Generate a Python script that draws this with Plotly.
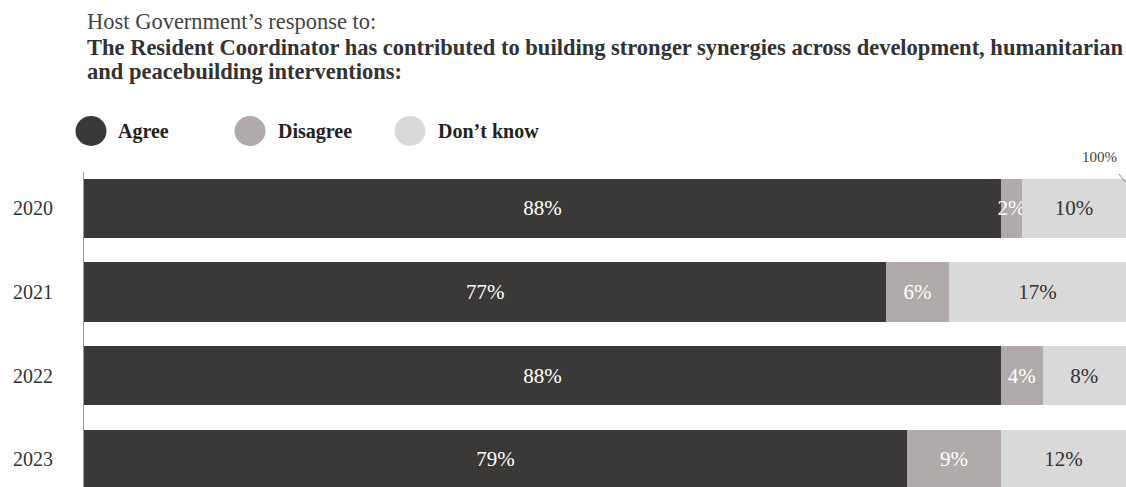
import plotly.graph_objects as go

# Survey responses by year (percent of respondents)
years = ["2020", "2021", "2022", "2023"]
agree = [88, 77, 88, 79]
disagree = [2, 6, 4, 9]
dont_know = [10, 17, 8, 12]

series_names = ["Agree", "Disagree", "Don\u2019t know"]
colors = ["#3b3937", "#b0abaa", "#d9d9d9"]
text_colors = ["#ffffff", "#ffffff", "#333333"]

W, H = 1126, 487
M_L, M_R, M_T, M_B = 84, 0, 172, 0
FONT = "Liberation Serif"
VALUE_SIZE = 21
TITLE_SIZE = 22.5


def px_x(px):
    """Pixel x -> paper x."""
    return (px - M_L) / (W - M_L - M_R)


def px_y(py):
    """Pixel y (from top) -> paper y."""
    return (H - M_B - py) / (H - M_T - M_B)


fig = go.Figure()
for name, vals, col, tcol in zip(series_names, [agree, disagree, dont_know], colors, text_colors):
    fig.add_trace(go.Bar(
        y=years, x=vals, name=name, orientation="h",
        marker=dict(color=col, line=dict(width=0)),
        text=[f"{v}%" for v in vals], textposition="inside",
        insidetextanchor="middle", textangle=0, constraintext="none",
        textfont=dict(family=FONT, size=VALUE_SIZE, color=tcol),
        cliponaxis=False, showlegend=False,
    ))

annotations = [
    dict(x=px_x(85), y=px_y(22), xref="paper", yref="paper", xanchor="left", yanchor="middle",
         text="Host Government\u2019s response to:", showarrow=False,
         font=dict(family=FONT, size=TITLE_SIZE, color="#444444")),
    dict(x=px_x(85), y=px_y(47), xref="paper", yref="paper", xanchor="left", yanchor="middle",
         text="<b>The Resident Coordinator has contributed to building stronger synergies across development, humanitarian</b>",
         showarrow=False, font=dict(family=FONT, size=TITLE_SIZE, color="#333333")),
    dict(x=px_x(85), y=px_y(71), xref="paper", yref="paper", xanchor="left", yanchor="middle",
         text="<b>and peacebuilding interventions:</b>",
         showarrow=False, font=dict(family=FONT, size=TITLE_SIZE, color="#333333")),
    dict(x=px_x(1099), y=px_y(157), xref="paper", yref="paper", xanchor="center", yanchor="middle",
         text="100%", showarrow=False, font=dict(family=FONT, size=15, color="#444444")),
]

shapes = []
# Legend: circles with bold labels
for name, col, cx, tx in zip(series_names, colors, [91, 250, 410], [116, 276, 436]):
    shapes.append(dict(type="circle", xref="paper", yref="paper",
                       x0=px_x(cx - 15.5), x1=px_x(cx + 15.5),
                       y0=px_y(146), y1=px_y(116),
                       fillcolor=col, line=dict(width=0)))
    annotations.append(dict(x=px_x(tx), y=px_y(131), xref="paper", yref="paper",
                            xanchor="left", yanchor="middle", text=f"<b>{name}</b>",
                            showarrow=False, font=dict(family=FONT, size=20, color="#222222")))

# Small tick next to the 100% mark
shapes.append(dict(type="line", xref="paper", yref="paper",
                   x0=px_x(1119), x1=px_x(1125), y0=px_y(174), y1=px_y(182),
                   line=dict(color="#888888", width=1)))

fig.update_layout(
    width=W, height=H,
    margin=dict(l=M_L, r=M_R, t=M_T, b=M_B),
    barmode="stack", bargap=0.293,
    plot_bgcolor="white", paper_bgcolor="white",
    font=dict(family=FONT),
    xaxis=dict(range=[0, 100], visible=False, fixedrange=True),
    yaxis=dict(type="category", range=[3.335, -0.437], showline=True,
               linecolor="#999999", linewidth=1, ticks="", showgrid=False,
               ticklabelstandoff=26,
               tickfont=dict(family=FONT, size=20, color="#333333")),
    annotations=annotations,
    shapes=shapes,
    uniformtext=dict(mode="show", minsize=VALUE_SIZE),
)

fig.write_html("out.html", config={"displayModeBar": False})
